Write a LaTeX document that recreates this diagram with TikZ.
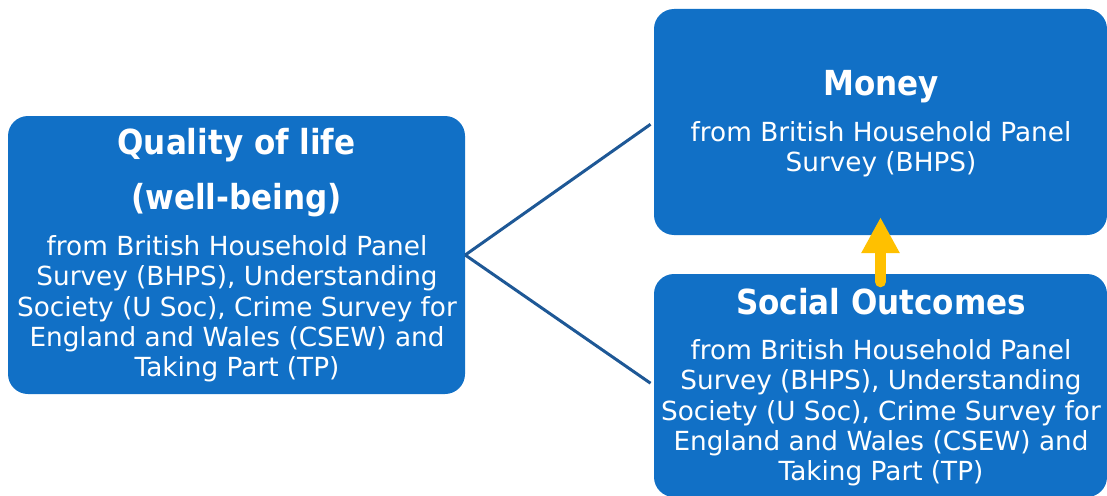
\documentclass[tikz,border=0pt]{standalone}
\usepackage{fontspec}
\setmainfont{DejaVu Sans}
\newfontfamily\headfont{DejaVu Sans Condensed}
\usetikzlibrary{arrows.meta,calc}
\definecolor{boxblue}{RGB}{17,112,198}
\definecolor{linkblue}{RGB}{30,88,150}
\definecolor{arrowgold}{RGB}{255,192,0}
\tikzset{
  card/.style={draw=none, fill=boxblue, rounded corners=20pt, inner sep=0pt},
  headtext/.style={text=white, align=center, inner sep=0pt,
    font=\headfont\fontsize{34.5}{42}\bfseries\selectfont},
  bodytext/.style={text=white, align=center, inner sep=0pt,
    font=\fontsize{26.3}{30.3}\selectfont},
  link/.style={draw=linkblue, line width=3pt},
}
\begin{document}
\begin{tikzpicture}[x=1pt, y=-1pt]
  \clip (0,0) rectangle (1107,495);
  \useasboundingbox (0,0) rectangle (1107,495);

  % the three boxes
  \node[card, minimum width=457pt, minimum height=278pt] (quality) at (236.5,255) {};
  \node[card, minimum width=453pt, minimum height=226pt] (money) at (880.5,122) {};
  \node[card, minimum width=453pt, minimum height=223pt] (social) at (880.5,385.5) {};

  % texts of the left box
  \node[headtext] (qt1) at (236.5,145) {Quality of life};
  \node[headtext] (qt2) at (236.5,200) {(well-being)};
  \node[bodytext] (qb) at (237,309) {from British Household Panel\\
    Survey (BHPS), Understanding\\
    Society (U Soc), Crime Survey for\\
    England and Wales (CSEW) and\\
    Taking Part (TP)};

  % texts of the upper right box
  \node[headtext] (mt) at (881,87) {Money};
  \node[bodytext] (mb) at (881,149.5) {from British Household Panel\\
    Survey (BHPS)};

  % texts of the lower right box
  \node[headtext] (st) at (881,302) {Social Outcomes};
  \node[bodytext] (sb) at (881,413) {from British Household Panel\\
    Survey (BHPS), Understanding\\
    Society (U Soc), Crime Survey for\\
    England and Wales (CSEW) and\\
    Taking Part (TP)};

  % connectors
  \draw[link, shorten >=4pt] (quality.east) -- (money.west);
  \draw[link, shorten >=4pt] (quality.east) -- (social.west);
  \draw[arrowgold, line width=11pt, line cap=round,
        -{Triangle[width=36pt, length=36pt]}]
    ($(social.north)+(0,8)$) -- ($(money.south)+(0,-18)$);
\end{tikzpicture}
\end{document}
